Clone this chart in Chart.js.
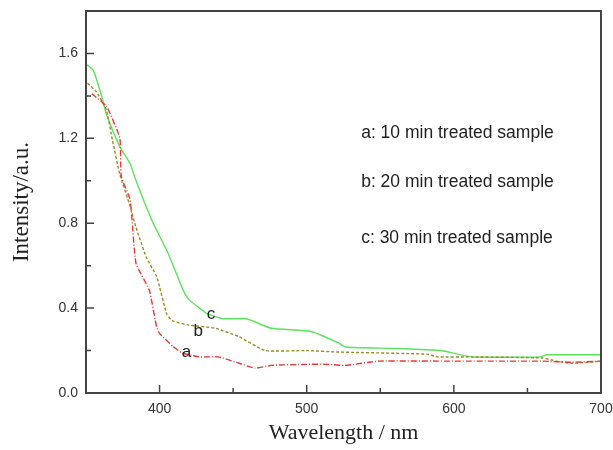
<!DOCTYPE html>
<html>
<head>
<meta charset="utf-8">
<script src="https://cdn.jsdelivr.net/npm/chart.js@4"></script>
<style>
  html, body { margin: 0; padding: 0; background: #fff; }
  #wrap { width: 613px; height: 450px; }
</style>
</head>
<body>
<div id="wrap"><canvas id="chart" width="613" height="450"></canvas></div>
<script>
// curve a: 10 min treated sample
const wlA = [354, 364, 373, 374, 380, 384, 393, 398, 400, 409, 415, 427, 440, 454, 465, 476, 500, 515, 526, 549, 600, 660, 680, 700];
const intA = [1.41, 1.35, 1.20, 1.02, 0.91, 0.61, 0.485, 0.31, 0.28, 0.22, 0.19, 0.17, 0.17, 0.14, 0.117, 0.13, 0.135, 0.135, 0.13, 0.15, 0.15, 0.15, 0.145, 0.15];

// curve b: 20 min treated sample
const wlB = [351, 357, 364, 368, 373, 380, 384, 391, 398, 400, 405, 409, 420, 438, 454, 472, 500, 522, 582, 589, 612, 660, 670, 680, 700];
const intB = [1.46, 1.42, 1.33, 1.19, 1.03, 0.88, 0.78, 0.64, 0.55, 0.50, 0.37, 0.34, 0.32, 0.305, 0.265, 0.20, 0.20, 0.193, 0.183, 0.17, 0.17, 0.165, 0.15, 0.14, 0.15];

// curve c: 30 min treated sample
const wlC = [350, 355, 361, 364, 373, 380, 384, 395, 405, 411, 416, 420, 432, 443, 459, 476, 503, 522, 526, 560, 591, 612, 659, 663, 700];
const intC = [1.55, 1.52, 1.39, 1.31, 1.16, 1.08, 1.00, 0.81, 0.67, 0.57, 0.485, 0.44, 0.375, 0.35, 0.35, 0.305, 0.29, 0.235, 0.217, 0.21, 0.20, 0.17, 0.17, 0.18, 0.18];

const legendLines = ['a: 10 min treated sample', 'b: 20 min treated sample', 'c: 30 min treated sample'];

function toPoints(xs, ys) {
    return xs.map((x, i) => ({ x: x, y: ys[i] }));
}

// frame, inward ticks and text labels
const decorations = {
    id: 'decorations',
    afterDraw(chart) {
        const ctx = chart.ctx;
        const area = chart.chartArea;
        const xs = chart.scales.x;
        const ys = chart.scales.y;
        ctx.save();
        ctx.strokeStyle = '#444';
        ctx.lineWidth = 2;
        ctx.strokeRect(area.left, area.top, area.right - area.left, area.bottom - area.top);

        ctx.lineWidth = 1.5;
        ctx.beginPath();
        for (let v = 400; v < 700; v += 50) {
            const px = xs.getPixelForValue(v);
            const len = v % 100 === 0 ? 8 : 5;
            ctx.moveTo(px, area.bottom);
            ctx.lineTo(px, area.bottom - len);
        }
        for (let v = 0.2; v < 1.75; v += 0.2) {
            const py = ys.getPixelForValue(v);
            const len = Math.round(v * 10) % 4 === 0 ? 8 : 5;
            ctx.moveTo(area.left, py);
            ctx.lineTo(area.left + len, py);
        }
        ctx.stroke();

        ctx.fillStyle = '#222';
        ctx.font = '17.5px "Liberation Sans", Arial, sans-serif';
        ctx.textBaseline = 'middle';
        ctx.textAlign = 'left';
        const legendY = [1.223, 0.993, 0.729];
        legendLines.forEach((t, i) => {
            ctx.fillText(t, xs.getPixelForValue(537), ys.getPixelForValue(legendY[i]));
        });

        ctx.font = '17px "Liberation Sans", Arial, sans-serif';
        ctx.fillText('a', xs.getPixelForValue(415), ys.getPixelForValue(0.19));
        ctx.fillText('b', xs.getPixelForValue(423), ys.getPixelForValue(0.29));
        ctx.fillText('c', xs.getPixelForValue(432), ys.getPixelForValue(0.37));
        ctx.restore();
    }
};

const ctx = document.getElementById('chart').getContext('2d');
new Chart(ctx, {
    type: 'line',
    data: {
        datasets: [
            {
                label: 'a',
                data: toPoints(wlA, intA),
                borderColor: '#e53a3a',
                borderWidth: 1.4,
                borderDash: [6, 2, 1, 2],
                pointRadius: 0,
                tension: 0.15
            },
            {
                label: 'b',
                data: toPoints(wlB, intB),
                borderColor: '#9c8a24',
                borderWidth: 1.4,
                borderDash: [3, 2],
                pointRadius: 0,
                tension: 0.15
            },
            {
                label: 'c',
                data: toPoints(wlC, intC),
                borderColor: '#5fe05f',
                borderWidth: 1.4,
                pointRadius: 0,
                tension: 0.15
            }
        ]
    },
    options: {
        responsive: false,
        animation: false,
        layout: { padding: { top: 11, right: 12, left: 0, bottom: 0 } },
        plugins: {
            legend: { display: false },
            tooltip: { enabled: false }
        },
        scales: {
            x: {
                type: 'linear',
                min: 350,
                max: 700,
                grid: { display: false, drawTicks: false },
                border: { display: false },
                ticks: {
                    stepSize: 50,
                    padding: 8,
                    color: '#333',
                    font: { family: '"Liberation Sans", Arial, sans-serif', size: 14 },
                    callback: v => (v % 100 === 0 && v > 350) ? v : ''
                },
                title: {
                    display: true,
                    text: 'Wavelength / nm',
                    color: '#222',
                    font: { family: '"Liberation Serif", "Times New Roman", serif', size: 22 },
                    padding: { top: 12 }
                },
                afterFit: s => {
                    s.height = 57;
                    s.paddingLeft = 0;
                    s.paddingRight = 0;
                }
            },
            y: {
                min: 0,
                max: 1.8,
                grid: { display: false, drawTicks: false },
                border: { display: false },
                ticks: {
                    stepSize: 0.2,
                    padding: 8,
                    color: '#333',
                    font: { family: '"Liberation Sans", Arial, sans-serif', size: 14 },
                    callback: v => {
                        const r = Math.round(v * 10);
                        return (r % 4 === 0 && r < 18) ? (r / 10).toFixed(1) : '';
                    }
                },
                title: {
                    display: true,
                    text: 'Intensity/a.u.',
                    color: '#222',
                    font: { family: '"Liberation Serif", "Times New Roman", serif', size: 23 },
                    padding: { top: 8, bottom: 6 }
                },
                afterFit: s => {
                    s.width = 86;
                    s.paddingTop = 0;
                    s.paddingBottom = 0;
                }
            }
        }
    },
    plugins: [decorations]
});
</script>
</body>
</html>
